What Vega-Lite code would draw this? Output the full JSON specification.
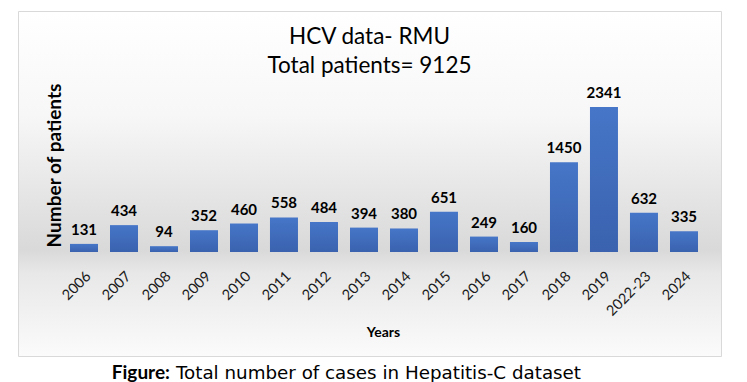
{
  "$schema": "https://vega.github.io/schema/vega-lite/v6.json",
  "width": 703,
  "height": 345,
  "autosize": {"type": "none"},
  "padding": {"left": 18, "top": 11, "right": 26, "bottom": 26},
  "background": "white",
  "view": {
    "stroke": "#d9d9d9",
    "strokeWidth": 1,
    "fill": {
      "gradient": "linear", "x1": 0, "y1": 0, "x2": 0, "y2": 1,
      "stops": [
        {"offset": 0, "color": "#ffffff"},
        {"offset": 0.3, "color": "#f7f7f7"},
        {"offset": 0.69, "color": "#d9d9d9"},
        {"offset": 0.76, "color": "#e8e8e8"},
        {"offset": 1, "color": "#fbfbfb"}
      ]
    }
  },
  "title": {
    "text": ["HCV data- RMU", "Total patients= 9125"],
    "font": "Lato",
    "fontSize": 22.5,
    "fontWeight": "normal",
    "color": "#000000",
    "lineHeight": 29,
    "anchor": "middle",
    "frame": "group",
    "baseline": "top",
    "offset": -66
  },
  "data": {
    "values": [
      {"year": "2006", "patients": 131},
      {"year": "2007", "patients": 434},
      {"year": "2008", "patients": 94},
      {"year": "2009", "patients": 352},
      {"year": "2010", "patients": 460},
      {"year": "2011", "patients": 558},
      {"year": "2012", "patients": 484},
      {"year": "2013", "patients": 394},
      {"year": "2014", "patients": 380},
      {"year": "2015", "patients": 651},
      {"year": "2016", "patients": 249},
      {"year": "2017", "patients": 160},
      {"year": "2018", "patients": 1450},
      {"year": "2019", "patients": 2341},
      {"year": "2022-23", "patients": 632},
      {"year": "2024", "patients": 335}
    ]
  },
  "layer": [
    {
      "mark": {
        "type": "bar",
        "color": {
          "gradient": "linear", "x1": 0, "y1": 0, "x2": 0, "y2": 1,
          "stops": [
            {"offset": 0, "color": "#4676c8"},
            {"offset": 1, "color": "#3a62ae"}
          ]
        }
      },
      "encoding": {
        "x": {
          "field": "year",
          "type": "nominal",
          "sort": null,
          "scale": {"paddingInner": 0.3, "paddingOuter": 0.9375, "align": 0.693},
          "axis": {
            "orient": "bottom",
            "offset": -104,
            "labelAngle": -45,
            "labelFont": "Lato",
            "labelFontSize": 14.5,
            "labelColor": "#1a1a1a",
            "labelPadding": 17,
            "domain": false,
            "ticks": false,
            "grid": false,
            "title": "Years",
            "titleFont": "Lato",
            "titleFontSize": 14,
            "titleFontWeight": "bold",
            "titleColor": "#000000",
            "titleX": 365,
            "titlePadding": 7
          }
        },
        "y": {
          "field": "patients",
          "type": "quantitative",
          "scale": {"domain": [-1679, 3891], "nice": false, "zero": false},
          "axis": {
            "labels": false,
            "ticks": false,
            "domain": false,
            "grid": false,
            "title": "Number of patients",
            "titleFont": "Lato",
            "titleFontSize": 19,
            "titleFontWeight": "bold",
            "titleColor": "#000000",
            "titleX": 46,
            "titleY": 154
          }
        },
        "y2": {"datum": 0}
      }
    },
    {
      "mark": {
        "type": "text",
        "font": "Lato",
        "fontSize": 15,
        "fontWeight": "bold",
        "color": "#000000",
        "baseline": "alphabetic",
        "dy": -9
      },
      "encoding": {
        "x": {"field": "year", "type": "nominal", "sort": null},
        "y": {"field": "patients", "type": "quantitative"},
        "text": {"field": "patients", "type": "quantitative"}
      }
    },
    {
      "data": {"values": [{"caption": "Figure:"}]},
      "mark": {
        "type": "text",
        "font": "Lato",
        "fontSize": 19,
        "fontWeight": "bold",
        "color": "#000000",
        "align": "right",
        "baseline": "alphabetic",
        "dx": 6,
        "dy": 23
      },
      "encoding": {
        "x": {"datum": "2008"},
        "y": {"datum": -1679},
        "text": {"field": "caption"}
      }
    },
    {
      "data": {"values": [{"caption": "Total number of cases in Hepatitis-C dataset"}]},
      "mark": {
        "type": "text",
        "font": "DejaVu Sans",
        "fontSize": 18.3,
        "fontWeight": "normal",
        "color": "#000000",
        "align": "left",
        "baseline": "alphabetic",
        "dx": 12,
        "dy": 23
      },
      "encoding": {
        "x": {"datum": "2008"},
        "y": {"datum": -1679},
        "text": {"field": "caption"}
      }
    }
  ]
}
